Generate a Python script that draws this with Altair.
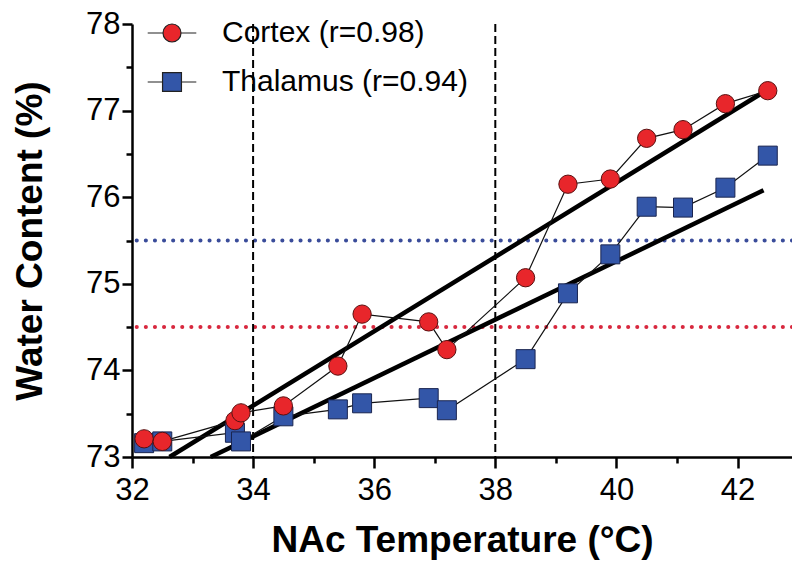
import altair as alt
import pandas as pd

# ---- data ----
temps = [32.2, 32.5, 33.7, 33.8, 34.5, 35.4, 35.8, 36.9, 37.2, 38.5, 39.2, 39.9, 40.5, 41.1, 41.8, 42.5]
cortex = [73.21, 73.18, 73.42, 73.51, 73.59, 74.05, 74.65, 74.56, 74.24, 75.07, 76.15, 76.21, 76.68, 76.78, 77.08, 77.23]
thalamus = [73.16, 73.18, 73.28, 73.18, 73.47, 73.55, 73.62, 73.68, 73.54, 74.13, 74.89, 75.34, 75.89, 75.88, 76.11, 76.48]

series_names = ["Cortex", "Thalamus"]
r_values = [0.98, 0.94]
series_colors = ["#E8262B", "#3356A8"]

cortex_fit_x = [32.62, 42.40]
cortex_fit_y = [73.00, 77.20]
thalamus_fit_x = [33.30, 42.43]
thalamus_fit_y = [73.00, 76.08]

ref_temps = [34, 38]
threshold_values = [74.5, 75.5]
threshold_colors = ["#D8283E", "#3A4C9A"]

x_ticks = list(range(32, 43))
y_ticks = [73 + 0.5 * i for i in range(11)]

# ---- tables ----
labels = [f"{n} (r={r:.2f})" for n, r in zip(series_names, r_values)]
cortex_df = pd.DataFrame({"series": labels[0], "temp": temps, "water": cortex})
thal_df = pd.DataFrame({"series": labels[1], "temp": temps, "water": thalamus})
pts = pd.concat([thal_df, cortex_df], ignore_index=True)

fit_rows = []
for lab, xs, ys in [(labels[0], cortex_fit_x, cortex_fit_y), (labels[1], thalamus_fit_x, thalamus_fit_y)]:
    for xv, yv in zip(xs, ys):
        fit_rows.append({"series": lab, "temp": xv, "water": yv})
fits = pd.DataFrame(fit_rows)

thr = pd.DataFrame({"water": threshold_values, "col": threshold_colors})
vref = pd.DataFrame({"temp": ref_temps})

FONT = "Liberation Sans"

x_scale = alt.Scale(domain=[32, 42.9], nice=False, zero=False)
y_scale = alt.Scale(domain=[73, 78], nice=False, zero=False)

x_axis = alt.Axis(
    values=x_ticks,
    labelExpr="datum.value % 2 == 0 ? format(datum.value, 'd') : ''",
    tickSize={"condition": {"test": "datum.value % 2 == 0", "value": 11}, "value": 6},
    labelPadding=7,
    titlePadding=17,
    grid=False,
    labelOverlap=False,
    labelFlush=False,
)
y_axis = alt.Axis(
    values=y_ticks,
    labelExpr="datum.value % 1 == 0 ? format(datum.value, 'd') : ''",
    tickSize={"condition": {"test": "datum.value % 1 == 0", "value": 10}, "value": 6},
    labelPadding=2,
    titlePadding=36,
    grid=False,
    labelOverlap=False,
    labelFlush=False,
)

X = alt.X("temp:Q", scale=x_scale, axis=x_axis, title="NAc Temperature (°C)")
Y = alt.Y("water:Q", scale=y_scale, axis=y_axis, title="Water Content (%)")

# legend symbols: marker with a short line through it
circle_path = "M-2.7,0L-1,0M1,0L2.7,0M-1,0A1,1,0,1,1,1,0A1,1,0,1,1,-1,0Z"
square_path = "M-2.7,0L-1.05,0M1.05,0L2.7,0M-1.05,-1.05L1.05,-1.05L1.05,1.05L-1.05,1.05Z"

legend = alt.Legend(
    title=None,
    orient="none",
    legendX=25,
    legendY=-6,
    padding=0,
    labelFont=FONT,
    labelFontSize=30,
    labelColor="black",
    labelOffset=35,
    labelLimit=0,
    rowPadding=19,
    symbolSize=324,
    symbolStrokeColor="#222222",
    symbolStrokeWidth=1.2,
)

dotted = alt.Chart(thr).mark_rule(strokeDash=[0.1, 9], strokeCap="round", strokeWidth=4).encode(
    y=Y, color=alt.Color("col:N", scale=None)
)
dashed = alt.Chart(vref).mark_rule(strokeDash=[8, 4], strokeWidth=2, color="black").encode(x=X)
fit_lines = alt.Chart(fits).mark_line(strokeWidth=4.5, color="black").encode(
    x=X, y=Y, detail="series:N"
)
conn = alt.Chart(pts).mark_line(strokeWidth=1.2, color="#111111").encode(
    x=X, y=Y, detail="series:N", order="temp:Q"
)
thal_pts = alt.Chart(thal_df).mark_point(
    shape="square", filled=True, opacity=1, size=361, fill=series_colors[1],
    stroke="#1a2550", strokeWidth=1,
).encode(x=X, y=Y)
cortex_pts = alt.Chart(cortex_df).mark_point(
    shape="circle", filled=True, opacity=1, size=335, fill=series_colors[0],
    stroke="#5a1010", strokeWidth=1,
).encode(x=X, y=Y)

legend_layer = alt.Chart(pts).transform_filter("false").mark_point(
    filled=True, opacity=1, size=324, stroke="#222222", strokeWidth=1.2
).encode(
    x=X,
    y=Y,
    color=alt.Color("series:N", scale=alt.Scale(domain=labels, range=series_colors), legend=legend),
    shape=alt.Shape("series:N", scale=alt.Scale(domain=labels, range=[circle_path, square_path]), legend=legend),
)

chart = (
    alt.layer(dotted, dashed, fit_lines, conn, thal_pts, cortex_pts, legend_layer)
    .properties(
        width=660,
        height=433,
        padding={"left": 124, "top": 16, "right": 0, "bottom": 106},
        autosize=alt.AutoSizeParams(type="none"),
        background="white",
    )
    .configure_view(stroke=None)
    .configure_axis(
        labelFont=FONT,
        labelFontSize=31,
        labelColor="black",
        titleFont=FONT,
        titleFontSize=37,
        titleFontWeight="bold",
        titleColor="black",
        domainColor="black",
        domainWidth=2.5,
        tickColor="black",
        tickWidth=2.5,
    )
)

chart.save("out.html", embed_options={"renderer": "svg", "actions": False})
